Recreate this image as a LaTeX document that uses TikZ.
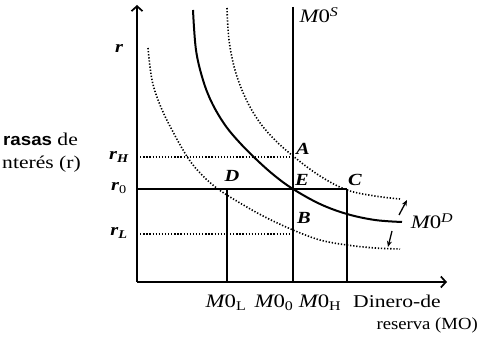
\documentclass[tikz,border=0pt]{standalone}
\usepackage{fontspec}
\setmainfont{Liberation Serif}
\newfontfamily\lblfont[FakeStretch=1.2]{Liberation Serif}
\newfontfamily\resfont[FakeStretch=1.1]{Liberation Serif}
\newfontfamily\bsans[FakeStretch=1.1]{Liberation Sans}
\usetikzlibrary{arrows.meta}
\begin{document}
\begin{tikzpicture}[x=1pt,y=-1pt,
  axisline/.style={line width=1.7pt,-{Straight Barb[length=5pt,width=11pt,line width=1.7pt]}},
  supplyline/.style={line width=1.2pt},
  demandline/.style={line width=2pt},
  solidline/.style={line width=1.6pt},
  dotline/.style={line width=1.6pt,dash pattern=on 1.3pt off 1.8pt},
  shiftarrow/.style={line width=1.3pt,-{Stealth[length=6pt,width=5pt]}},
  txt/.style={font=\lblfont\fontsize{18}{18}\selectfont,inner sep=0pt},
  pt/.style={font=\lblfont\fontsize{17}{17}\selectfont\itshape\bfseries,inner sep=0pt},
  mlab/.style={font=\lblfont\fontsize{19}{19}\selectfont,inner sep=0pt}]
\useasboundingbox (0,0) rectangle (480,339);
% key coordinates
\coordinate (O) at (137,282);
\coordinate (ytop) at (137,5);
\coordinate (xend) at (447,282);
\coordinate (Stop) at (293,7);
\coordinate (Sbot) at (293,282);
\coordinate (rH) at (137,157);
\coordinate (A) at (293,157);
\coordinate (r0) at (137,189);
\coordinate (E) at (293,189);
\coordinate (Dp) at (227,189);
\coordinate (Cp) at (347,189);
\coordinate (Db) at (227,282);
\coordinate (Cb) at (347,282);
\coordinate (rL) at (137,234);
\coordinate (B) at (293,234);
% dotted demand shifts
\draw[dotline] plot[smooth,tension=0.6] coordinates {(227,8) (229,40) (235,70) (245,97) (258,120) (273,138) (293,156) (320,176) (347,190) (375,196) (400,199)};
\draw[dotline] plot[smooth,tension=0.6] coordinates {(148,48) (152,80) (160,105) (172,130) (188,158) (202,175) (218,189) (240,203) (265,217) (293,230) (320,240) (347,245) (375,248) (400,249)};
% guide lines
\draw[dotline] (rH) -- (A);
\draw[dotline] (rL) -- (B);
\draw[solidline] (r0) -- (Cp);
\draw[solidline] (Dp) -- (Db);
\draw[solidline] (Cp) -- (Cb);
\draw[supplyline] (Stop) -- (Sbot);
% demand curve
\draw[demandline] plot[smooth,tension=0.6] coordinates {(193,10) (196,50) (203,80) (212,103) (225,125) (240,143) (258,161) (275,176) (293,189) (320,204) (347,214) (375,220) (402,222)};
% axes
\draw[axisline] (O) -- (ytop);
\draw[axisline] (O) -- (xend);
% shift arrows
\coordinate (u1) at (399,215); \coordinate (u2) at (407,200);
\coordinate (d1) at (392,231); \coordinate (d2) at (388,247);
\draw[shiftarrow] (u1) -- (u2);
\draw[shiftarrow] (d1) -- (d2);
% labels
\node[pt] (lr) at (119,48) {r};
\node[pt] (lrH) at (119,157) {r\textsubscript{H}};
\node[pt] (lr0) at (119,188) {r\textsubscript{\upshape\mdseries 0}};
\node[pt] (lrL) at (119,233) {r\textsubscript{L}};
\node[mlab] (lMS) at (319,15) {\itshape M\upshape 0\textsuperscript{\itshape S}};
\node[pt] (lA) at (303,149) {A};
\node[pt] (lE) at (302,180) {E};
\node[pt] (lC) at (355,180) {C};
\node[pt] (lD) at (232,176) {D};
\node[pt] (lB) at (304,218) {B};
\node[mlab] (lMD) at (432,221) {\itshape M\upshape 0\textsuperscript{\itshape D}};
\node[mlab,anchor=base] (lML) at (226,308) {\itshape M\upshape 0\textsubscript{L}};
\node[mlab,anchor=base] (lM0) at (274,308) {\itshape M\upshape 0\textsubscript{0}};
\node[mlab,anchor=base] (lMH) at (320,308) {\itshape M\upshape 0\textsubscript{H}};
\node[txt,anchor=base west] (ldin) at (353,308) {Dinero-de};
\node[txt,anchor=base east,font=\resfont\fontsize{17}{17}\selectfont] (lres) at (478,330) {reserva (MO)};
\node[txt,anchor=base west] (ltas) at (3,146) {{\bsans\bfseries\fontsize{17}{17}\selectfont rasas} de};
\node[txt,anchor=base west] (lint) at (2,169) {nterés (r)};
\end{tikzpicture}
\end{document}
